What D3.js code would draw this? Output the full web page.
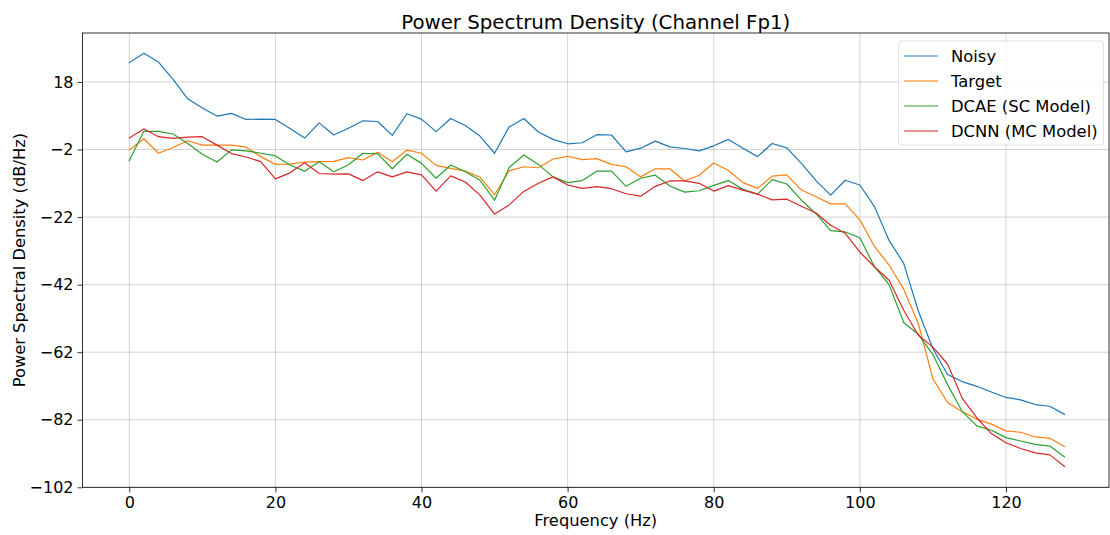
<!DOCTYPE html>
<html>
<head>
<meta charset="utf-8">
<script src="https://cdn.jsdelivr.net/npm/d3@7"></script>
<style>
  html, body { margin: 0; padding: 0; background: #fff; }
  svg { display: block; font-family: "DejaVu Sans", sans-serif; }
</style>
</head>
<body>
<svg id="chart" width="1110" height="535"></svg>
<script>
// ---- data ----
const freqs = d3.range(0, 129, 2);
const noisy = [23.7, 26.5, 23.9, 18.8, 13.0, 10.3, 7.9, 8.7, 6.9, 7.0, 6.9, 4.2, 1.4, 5.9, 2.3, 4.3, 6.5, 6.3, 2.2, 8.6,
  7.0, 3.3, 7.2, 5.1, 2.0, -3.1, 4.7, 7.2, 3.2, 1.0, -0.3, 0.0, 2.4, 2.3, -2.7, -1.6, 0.5, -1.2, -1.7, -2.4,
  -0.9, 1.0, -1.6, -4.1, -0.2, -1.5, -6.1, -11.2, -15.5, -11.1, -12.5, -18.9, -28.9, -35.7, -49.8, -61.0, -68.6,
  -70.7, -72.1, -73.8, -75.4, -76.1, -77.5, -78.0, -80.4];
const target = [-2.1, 1.2, -3.1, -1.4, 0.6, -0.7, -0.7, -0.7, -1.3, -4.1, -6.4, -6.3, -5.7, -5.6, -5.5, -4.4, -5.1, -2.8, -5.6, -2.2,
  -3.1, -6.7, -7.6, -8.4, -10.2, -15.4, -8.3, -7.1, -7.4, -4.8, -4.0, -5.0, -4.7, -6.4, -7.1, -10.1, -7.7, -7.7, -11.3, -9.6,
  -6.0, -8.2, -11.8, -13.5, -9.9, -9.5, -14.0, -16.0, -18.1, -18.1, -22.8, -30.7, -36.2, -43.4, -53.5, -69.9, -76.9,
  -79.6, -81.8, -83.3, -85.3, -85.7, -87.1, -87.5, -89.9];
const dcae = [-5.3, 3.4, 3.4, 2.6, -0.2, -3.4, -5.7, -2.1, -2.4, -3.1, -3.9, -6.6, -8.4, -5.6, -8.6, -6.5, -3.1, -3.3, -7.7, -3.4,
  -6.1, -10.5, -6.6, -8.6, -11.1, -17.0, -7.3, -3.6, -6.4, -10.1, -11.8, -11.2, -8.4, -8.4, -12.9, -10.5, -9.6, -12.8, -14.6, -14.2,
  -12.6, -11.2, -13.8, -15.2, -10.9, -12.2, -17.0, -21.0, -26.0, -26.4, -28.1, -36.7, -42.0, -53.2, -56.7, -62.7, -71.6,
  -79.5, -83.8, -85.1, -87.3, -88.3, -89.3, -89.8, -93.0];
const dcnn = [1.4, 4.1, 1.8, 1.3, 1.7, 1.8, -0.7, -3.2, -4.2, -5.6, -10.7, -8.9, -5.9, -9.1, -9.3, -9.2, -11.2, -8.6, -10.1, -8.6,
  -9.5, -14.3, -9.8, -11.6, -15.5, -21.1, -18.4, -14.4, -12.0, -10.1, -12.5, -13.5, -13.0, -13.6, -15.1, -15.8, -12.9, -11.3, -11.3, -12.0,
  -14.3, -12.7, -14.0, -15.2, -16.9, -16.7, -18.8, -20.8, -24.4, -26.8, -32.4, -36.7, -40.7, -49.6, -57.0, -60.5, -65.5,
  -75.6, -81.4, -86.1, -88.8, -90.5, -91.8, -92.4, -95.8];
const xTicks = [0, 20, 40, 60, 80, 100, 120];
const yTicks = [18, -2, -22, -42, -62, -82, -102];
const seriesNames = ["Noisy", "Target", "DCAE (SC Model)", "DCNN (MC Model)"];
const seriesColors = ["#1f77b4", "#ff7f0e", "#2ca02c", "#d62728"];
const seriesValues = [noisy, target, dcae, dcnn];

// ---- layout ----
const svg = d3.select("#chart");
const L = 82.5, R = 1109, T = 33, B = 487.3;

const x = d3.scaleLinear().domain([-6.4, 134.1]).range([L, R]);
const y = d3.scaleLinear().domain([-102, 32.5]).range([B, T]);

// grid
const grid = svg.append("g");
grid.selectAll(".vg").data(xTicks).enter().append("line")
  .attr("x1", d => x(d)).attr("x2", d => x(d)).attr("y1", T).attr("y2", B)
  .attr("stroke", "#b0b0b0").attr("stroke-width", 0.8).attr("stroke-opacity", 0.7);
grid.selectAll(".hg").data(yTicks).enter().append("line")
  .attr("y1", d => y(d)).attr("y2", d => y(d)).attr("x1", L).attr("x2", R)
  .attr("stroke", "#b0b0b0").attr("stroke-width", 0.8).attr("stroke-opacity", 0.7);

// lines
const line = d3.line().x((d, i) => x(freqs[i])).y(d => y(d));
const clip = svg.append("clipPath").attr("id", "clip").append("rect")
  .attr("x", L).attr("y", T).attr("width", R - L).attr("height", B - T);
const lg = svg.append("g").attr("clip-path", "url(#clip)");
seriesValues.forEach((vals, k) => {
  lg.append("path").datum(vals).attr("d", line)
    .attr("fill", "none").attr("stroke", seriesColors[k]).attr("stroke-width", 1.2)
    .attr("stroke-linejoin", "round").attr("stroke-linecap", "square");
});

// axes
const xAxis = d3.axisBottom(x).tickValues(xTicks).tickSize(5).tickPadding(4);
const yAxis = d3.axisLeft(y).tickValues(yTicks).tickSize(5).tickPadding(4)
  .tickFormat(d => d < 0 ? "\u2212" + Math.abs(d) : d);
const gx = svg.append("g").attr("transform", `translate(0,${B})`).call(xAxis);
const gy = svg.append("g").attr("transform", `translate(${L},0)`).call(yAxis);
[gx, gy].forEach(g => {
  g.select(".domain").remove();
  g.selectAll("text").attr("font-size", 16).attr("fill", "#000").attr("font-family", "DejaVu Sans");
  g.selectAll("line").attr("stroke", "#000").attr("stroke-width", 0.8);
});

// frame
svg.append("rect").attr("x", L).attr("y", T).attr("width", R - L).attr("height", B - T)
  .attr("fill", "none").attr("stroke", "#000").attr("stroke-width", 0.8);

// title & labels
svg.append("text").attr("x", (L + R) / 2).attr("y", 29).attr("text-anchor", "middle")
  .attr("font-size", 19.8).text("Power Spectrum Density (Channel Fp1)");
svg.append("text").attr("x", (L + R) / 2).attr("y", 526).attr("text-anchor", "middle")
  .attr("font-size", 16.3).text("Frequency (Hz)");
svg.append("text").attr("transform", `translate(25,${(T + B) / 2}) rotate(-90)`)
  .attr("text-anchor", "middle").attr("font-size", 16.3).text("Power Spectral Density (dB/Hz)");

// legend
const leg = svg.append("g");
leg.append("rect").attr("x", 898.5).attr("y", 41).attr("width", 205).attr("height", 104)
  .attr("rx", 3).attr("fill", "#fff").attr("fill-opacity", 0.8).attr("stroke", "#d9d9d9").attr("stroke-width", 0.8);
seriesNames.forEach((n, k) => {
  const yy = 56 + k * 25;
  leg.append("line").attr("x1", 904).attr("x2", 938).attr("y1", yy).attr("y2", yy)
    .attr("stroke", seriesColors[k]).attr("stroke-width", 1.2);
  leg.append("text").attr("x", 951).attr("y", yy).attr("dy", "0.36em")
    .attr("font-size", 16.4).text(n);
});
</script>
</body>
</html>
